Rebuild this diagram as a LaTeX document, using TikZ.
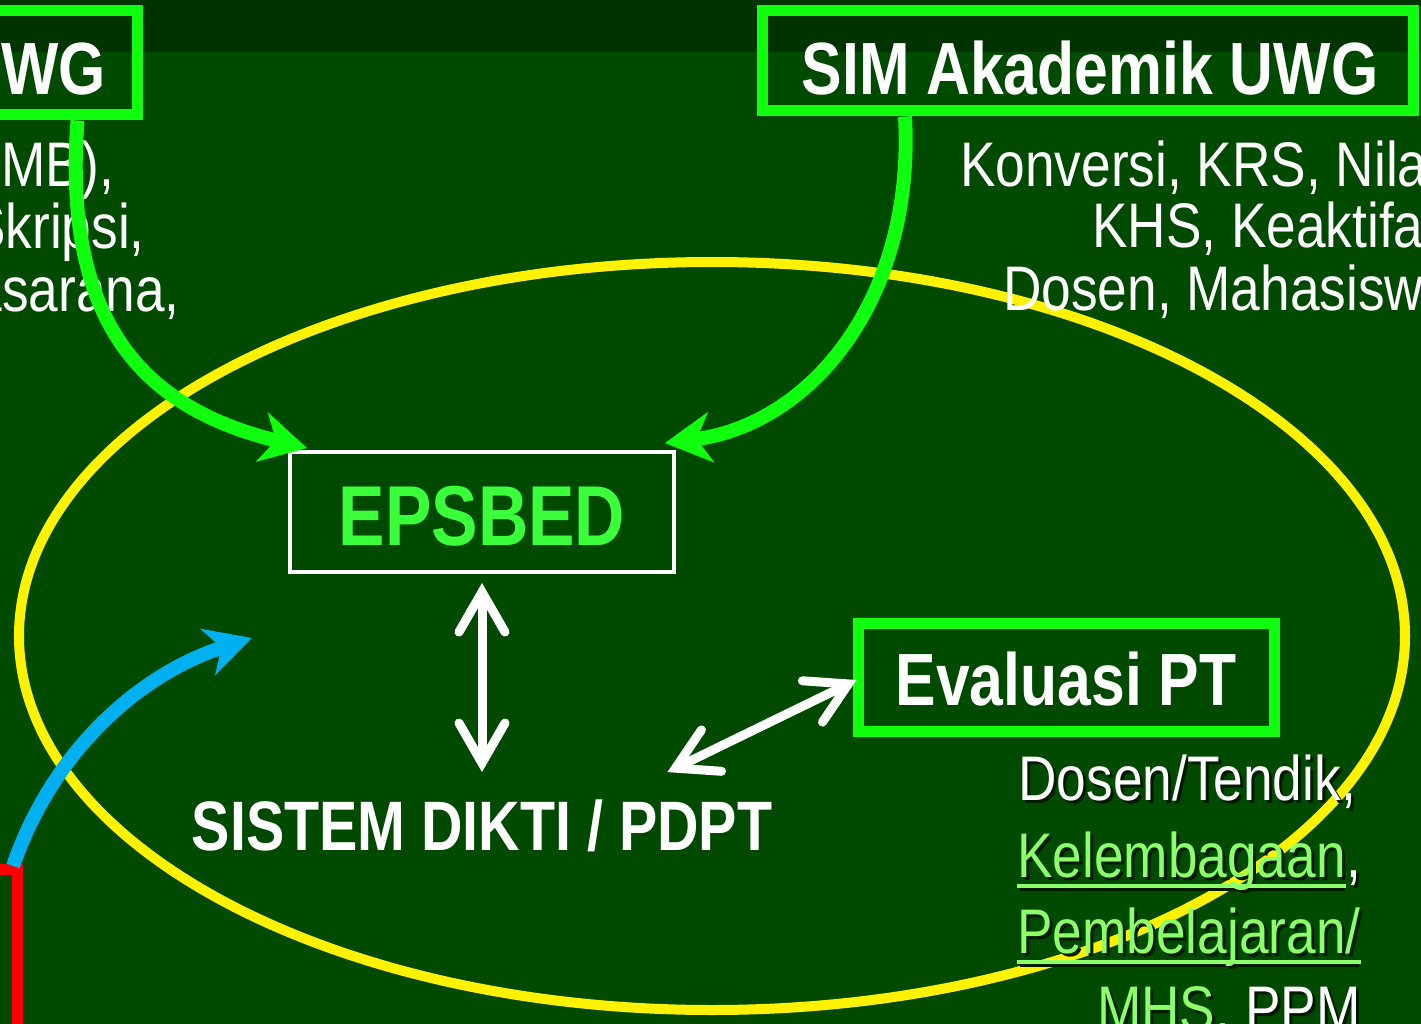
\documentclass[tikz,border=0pt]{standalone}
\usepackage{fontspec}
\setmainfont{Liberation Sans}
\newfontfamily\narrowf[FakeStretch=0.82]{Liberation Sans}
\newfontfamily\bodyf[FakeStretch=0.845]{Liberation Sans}
\usetikzlibrary{arrows.meta}
\definecolor{bg}{HTML}{004A00}
\definecolor{bgtop}{HTML}{003300}
\definecolor{boxgreen}{HTML}{0FFF0F}
\definecolor{epsgreen}{HTML}{3CFF3C}
\definecolor{skyblue}{HTML}{00B0F0}
\definecolor{litegreen}{HTML}{8CFF6A}
\definecolor{shade}{HTML}{001A00}
\newcommand{\shtext}[5]{%
  \node[#4, text=shade, anchor=#3] (#1s) at ([xshift=3pt,yshift=-3pt]#2) {#5};
  \node[#4, anchor=#3] (#1) at (#2) {#5};}
\begin{document}
\begin{tikzpicture}[x=1pt,y=-1pt,
  gbox/.style={draw=boxgreen, line width=11pt, inner sep=0pt},
  title/.style={text=white, inner sep=0pt, font=\narrowf\bfseries\fontsize{74}{80}\selectfont},
  body/.style={text=white, inner sep=0pt, font=\bodyf\fontsize{63}{70}\selectfont},
  bodyg/.style={body, text=litegreen},
  garrow/.style={draw=boxgreen, line width=14pt, -{Stealth[length=46pt,width=50pt,inset=14pt]}},
  barrow/.style={draw=skyblue, line width=14pt, -{Stealth[length=46pt,width=48pt,inset=14pt]}},
  dbl/.style={draw=white, line width=9pt, line cap=round,
    {Straight Barb[length=40pt,width=46pt,line cap=round]}-{Straight Barb[length=40pt,width=46pt,line cap=round]}},
  uline/.style={draw=litegreen, line width=4pt}
]
\useasboundingbox (0,0) rectangle (1421,1024);
\clip (0,0) rectangle (1421,1024);
\fill[bg] (0,0) rectangle (1421,1024);
\fill[bgtop] (0,0) rectangle (1421,52);

% yellow ellipse
\draw[yellow, line width=10pt] (712,636) ellipse [x radius=693pt, y radius=374pt];

% top boxes
\node[gbox, minimum width=300pt, minimum height=104pt] (boxL) at (-13,63) {};
\node[title, anchor=base east] (tL) at (106,95) {UWG};
\node[gbox, minimum width=651pt, minimum height=100pt] (boxR) at (1087.5,61) {};
\node[title, anchor=base] (tR) at (1090,95) {SIM Akademik UWG};

% left text
\node[body, anchor=base east] (l1) at (114,187) {(PMB),};
\node[body, anchor=base east] (l2) at (145,249) {Skripsi,};
\node[body, anchor=base east] (l3) at (180,311) {Prasarana,};

% right text
\node[body, anchor=base west] (r1) at (960,187) {Konversi, KRS, Nilai,};
\node[body, anchor=base west] (r2) at (1092,248) {KHS, Keaktifan};
\node[body, anchor=base west] (r3) at (1003,310) {Dosen, Mahasiswa};

% EPSBED
\node[draw=white, line width=4pt, inner sep=0pt, minimum width=384pt, minimum height=120pt] (eps) at (482,512) {};
\node[inner sep=0pt, text=epsgreen, font=\narrowf\bfseries\fontsize{85}{90}\selectfont, anchor=base] (epsT) at (482,545) {EPSBED};

% Evaluasi PT
\node[gbox, minimum width=416pt, minimum height=108pt] (evb) at (1066,677) {};
\node[title, anchor=base] (evT) at (1066,705) {Evaluasi PT};

% Sistem Dikti
\node[inner sep=0pt, text=white, font=\narrowf\bfseries\fontsize{70}{76}\selectfont, anchor=base] (sis) at (482,850) {SISTEM DIKTI / PDPT};

% red box corner
\coordinate (redc) at (17,869);
\draw[red, line width=11pt] (-30,869) -- (redc) -- (17,1060);

% green arrows
\draw[garrow] ([xshift=-65pt]boxL.south east) .. controls (62,330) and (150,410) .. ([xshift=19pt,yshift=2pt]eps.north west);
\draw[garrow] ([xshift=-182.5pt]boxR.south) .. controls (915,300) and (810,425) .. ([xshift=-11pt,yshift=7pt]eps.north east);

% blue arrow
\coordinate (bEnd) at (252,638);
\draw[barrow] ([xshift=-4pt,yshift=3pt]redc) .. controls (55,745) and (145,672) .. (bEnd);

% white double arrows
\draw[dbl, shorten <=9pt, shorten >=27pt] (eps.south) -- (eps.south |- sis.north);
\draw[dbl] ([xshift=-105pt,yshift=27pt]sis.north east) -- ([xshift=4pt,yshift=-3pt]evb.west);

% lower right text
\shtext{dt}{1356,800}{base east}{body}{Dosen/Tendik,}
\draw[uline, draw=shade] ([xshift=3pt,yshift=-12pt]1017,877) -- ([xshift=3pt,yshift=-12pt]1342,877);
\draw[uline, draw=shade] ([xshift=3pt,yshift=-12pt]1017,953) -- ([xshift=3pt,yshift=-12pt]1356,953);
\shtext{kel}{1017,877}{base west}{bodyg}{Kelembagaan}
\shtext{kelc}{kel.base east}{base west}{body}{,}
\draw[uline] ([yshift=-9pt]kel.base west) -- ([yshift=-9pt]kel.base east);
\shtext{pem}{1017,953}{base west}{bodyg}{Pembelajaran/}
\draw[uline] ([yshift=-9pt]pem.base west) -- ([yshift=-9pt]pem.base east);
\shtext{mhs}{1097,1030}{base west}{bodyg}{MHS}
\shtext{ppm}{mhs.base east}{base west}{body}{, PPM}
\end{tikzpicture}
\end{document}
